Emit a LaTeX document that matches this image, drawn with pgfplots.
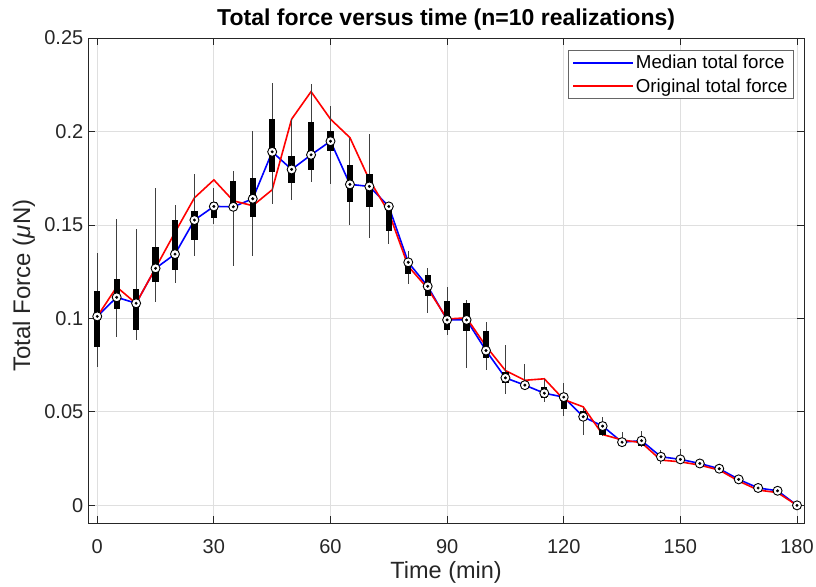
\documentclass[border=0pt]{standalone}
\usepackage{fontspec}
\setmainfont{Liberation Sans}
\usepackage{pgfplots}
\usepackage{pgfplotstable}
\pgfplotsset{compat=1.18}

\pgfplotstableread{
t med q1 q3 lo hi orig
0 0.1011 0.0846 0.1148 0.0739 0.1350 0.1010
5 0.1113 0.1052 0.1209 0.0899 0.1533 0.1168
10 0.1081 0.0940 0.1159 0.0883 0.1478 0.1080
15 0.1268 0.1193 0.1384 0.1088 0.1700 0.1270
20 0.1344 0.1257 0.1528 0.1190 0.1608 0.1460
25 0.1526 0.1421 0.1576 0.1332 0.1770 0.1645
30 0.1599 0.1537 0.1622 0.1506 0.1700 0.1741
35 0.1597 0.1590 0.1736 0.1279 0.1788 0.1629
40 0.1640 0.1542 0.1752 0.1335 0.2000 0.1603
45 0.1891 0.1784 0.2069 0.1613 0.2258 0.1688
50 0.1797 0.1722 0.1868 0.1631 0.2066 0.2066
55 0.1875 0.1793 0.2053 0.1731 0.2254 0.2213
60 0.1948 0.1896 0.2003 0.1718 0.2137 0.2066
65 0.1717 0.1622 0.1822 0.1497 0.1964 0.1967
70 0.1706 0.1596 0.1774 0.1430 0.1989 0.1741
75 0.1599 0.1467 0.1608 0.1398 0.1610 0.1567
80 0.1300 0.1239 0.1314 0.1184 0.1359 0.1279
85 0.1172 0.1122 0.1234 0.1029 0.1270 0.1160
90 0.0992 0.0940 0.1091 0.0910 0.1168 0.0997
95 0.0992 0.0931 0.1081 0.0734 0.1100 0.1003
100 0.0828 0.0789 0.0930 0.0723 0.0981 0.0851
105 0.0682 0.0655 0.0716 0.0598 0.0858 0.0721
110 0.0643 0.0630 0.0660 0.0620 0.0755 0.0669
115 0.0600 0.0575 0.0634 0.0552 0.0677 0.0677
120 0.0579 0.0518 0.0602 0.0477 0.0655 0.0566
125 0.0474 0.0463 0.0507 0.0374 0.0522 0.0527
130 0.0424 0.0379 0.0445 0.0370 0.0472 0.0379
135 0.0338 0.0333 0.0345 0.0330 0.0394 0.0350
140 0.0346 0.0317 0.0360 0.0310 0.0400 0.0335
145 0.0260 0.0237 0.0280 0.0220 0.0296 0.0242
150 0.0246 0.0240 0.0255 0.0230 0.0299 0.0233
155 0.0224 0.0220 0.0230 0.0215 0.0240 0.0215
160 0.0196 0.0190 0.0200 0.0185 0.0210 0.0189
165 0.0139 0.0135 0.0145 0.0130 0.0150 0.0130
170 0.0093 0.0090 0.0097 0.0088 0.0100 0.0082
175 0.0078 0.0075 0.0080 0.0073 0.0085 0.0068
180 0.0000 0.0000 0.0000 0.0000 0.0000 0.0000
}\data

\begin{document}
\begin{tikzpicture}
\useasboundingbox (-88.3pt,-62.7pt) rectangle (727.7pt,523.3pt);
\begin{axis}[
  at={(0pt,0pt)}, anchor=south west,
  scale only axis, width=715.7pt, height=485.3pt,
  xmin=-2.3, xmax=181.8, ymin=-0.0096, ymax=0.25,
  xtick={0,30,60,90,120,150,180},
  xticklabels={0,30,60,90,120,150,180},
  ytick={0,0.05,0.1,0.15,0.2,0.25},
  yticklabels={0,0.05,0.1,0.15,0.2,0.25},
  tick align=inside, tick pos=both,
  major tick length=7pt,
  grid=major, major grid style={gray!25, line width=0.8pt},
  axis line style={black!85, line width=0.8pt},
  every tick/.style={black!85, line width=0.8pt},
  tick label style={font=\fontsize{20}{24}\selectfont, text=black!85},
  xticklabel style={anchor=base, yshift=-30pt},
  yticklabel style={anchor=east, xshift=-1.5pt},
  title={Total force versus time (n=10 realizations)},
  title style={font=\bfseries\fontsize{23}{27}\selectfont, at={(axis description cs:0.5,1.026)}, anchor=center},
  xlabel={Time (min)},
  xlabel style={font=\fontsize{23.5}{27}\selectfont, text=black!85, inner sep=0pt, at={(axis description cs:0.5,-0.114)}, anchor=base},
  ylabel={Total Force ({\itshape μ}N)},
  ylabel style={font=\fontsize{24}{28}\selectfont, text=black!85, at={(axis description cs:-0.09,0.49)}, anchor=center},
  legend cell align=left,
  legend style={at={(0.986,0.975)}, anchor=north east, draw=black!60, line width=0.6pt,
    font=\fontsize{18.7}{22}\selectfont, inner xsep=4pt, inner ysep=3pt, row sep=4pt},
  legend image code/.code={\draw[#1] (0pt,0pt) -- (60pt,0pt);},
]
\addplot[blue, line width=1.6pt] table[x=t,y=med]{\data};
\addplot[red, line width=1.6pt] table[x=t,y=orig]{\data};
\legend{Median total force, Original total force}
\addplot[forget plot, only marks, mark=none,
  error bars/.cd, y dir=both, y explicit, error mark=none,
  error bar style={black!75, line width=0.9pt}]
  table[x=t, y=med, y error plus expr=\thisrow{hi}-\thisrow{med}, y error minus expr=\thisrow{med}-\thisrow{lo}]{\data};
\addplot[forget plot, only marks, mark=none,
  error bars/.cd, y dir=both, y explicit, error mark=none,
  error bar style={black, line width=6.3pt}]
  table[x=t, y=med, y error plus expr=\thisrow{q3}-\thisrow{med}, y error minus expr=\thisrow{med}-\thisrow{q1}]{\data};
\addplot[forget plot, only marks, mark=*, mark size=4.5pt, mark options={fill=white, draw=black, line width=0.9pt}] table[x=t,y=med]{\data};
\addplot[forget plot, only marks, mark=*, mark size=1.3pt, mark options={fill=black, draw=black}] table[x=t,y=med]{\data};
\end{axis}
\end{tikzpicture}
\end{document}
